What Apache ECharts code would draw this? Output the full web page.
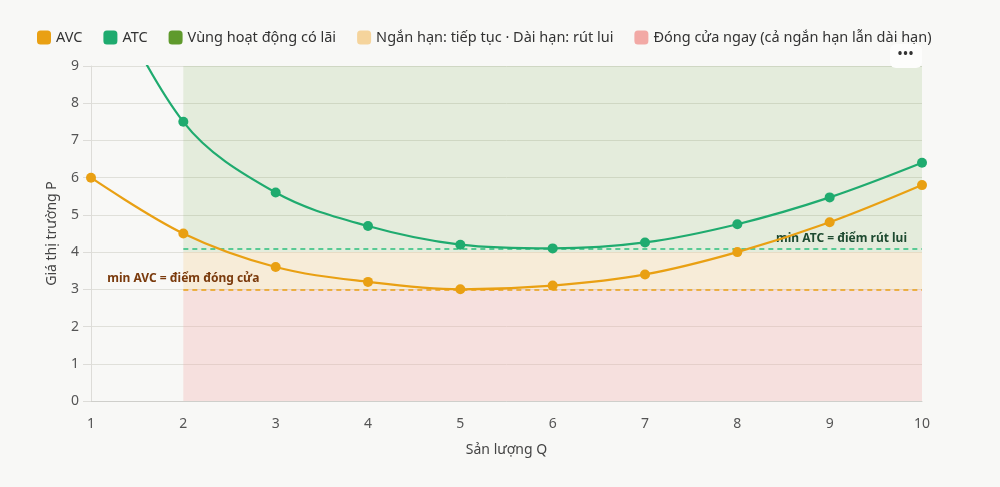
<!DOCTYPE html>
<html>
<head>
<meta charset="utf-8">
<script src="https://cdn.jsdelivr.net/npm/echarts@6/dist/echarts.min.js"></script>
<style>
  html, body { margin: 0; padding: 0; background: #f8f8f6; }
  #chart { width: 1000px; height: 487px; }
  #more { position: absolute; left: 890px; top: 44px; width: 32px; height: 24px; background: #fdfdfc;
          border-radius: 6px; font: bold 12px "Noto Sans", sans-serif; color: #333; text-align: center;
          line-height: 20px; letter-spacing: 1px; }
</style>
</head>
<body>
<div id="chart"></div>
<div id="more">•••</div>
<script>
const qValues = [1, 2, 3, 4, 5, 6, 7, 8, 9, 10];
const avcValues = [6.0, 4.5, 3.6, 3.2, 3.0, 3.1, 3.4, 4.0, 4.8, 5.8];
const atcValues = [12.0, 7.5, 5.6, 4.7, 4.2, 4.1, 4.26, 4.75, 5.47, 6.4];
const zoneQ = [2, 10];
const profitZone = [4, 9];
const shortRunZone = [3, 4];
const shutdownZone = [0, 3];
const minAVC = 3.0;
const minATC = 4.1;
const seriesNames = ['AVC', 'ATC', 'Vùng hoạt động có lãi', 'Ngắn hạn: tiếp tục · Dài hạn: rút lui', 'Đóng cửa ngay (cả ngắn hạn lẫn dài hạn)'];
const colors = ['#e9a013', '#1fab6f', '#5f9a2c', '#f5d49c', '#f2a9a5'];
const minAVCLabel = 'min AVC = điểm đóng cửa';
const minATCLabel = 'min ATC = điểm rút lui';

const avcData = qValues.map((q, i) => [q, avcValues[i]]);
const atcData = qValues.map((q, i) => [q, atcValues[i]]);

function zoneItem(zone, color, opacity) {
  return [
    { coord: [zoneQ[0], zone[0]], itemStyle: { color: color, opacity: opacity } },
    { coord: [zoneQ[1], zone[1]] }
  ];
}

const chart = echarts.init(document.getElementById('chart'));
chart.setOption({
  backgroundColor: '#f8f8f6',
  animation: false,
  textStyle: { fontFamily: '"Noto Sans", sans-serif' },
  legend: {
    top: 25, left: 32,
    itemWidth: 14, itemHeight: 14, itemGap: 21,
    icon: 'roundRect',
    textStyle: { fontSize: 14.5, color: '#333' },
    data: seriesNames
  },
  grid: { left: 91, right: 78, top: 66, bottom: 86 },
  xAxis: {
    type: 'value', min: 1, max: 10, interval: 1,
    name: 'Sản lượng Q', nameLocation: 'middle', nameGap: 42,
    nameTextStyle: { fontSize: 14, color: '#444' },
    axisLine: { show: true, lineStyle: { color: '#cfcfcb' } },
    axisTick: { show: false },
    axisLabel: { fontSize: 14, color: '#555', margin: 16 },
    splitLine: { show: false }
  },
  yAxis: {
    type: 'value', min: 0, max: 9, interval: 1,
    name: 'Giá thị trường P', nameLocation: 'middle', nameGap: 32,
    nameTextStyle: { fontSize: 14, color: '#444' },
    axisLine: { show: true, lineStyle: { color: '#dddcd8' } },
    axisTick: { show: true, length: 8, lineStyle: { color: '#dddcd8' } },
    axisLabel: { fontSize: 14, color: '#555', margin: 12 },
    splitLine: { lineStyle: { color: '#e0e0da' } }
  },
  series: [
    { name: seriesNames[2], type: 'line', data: [], itemStyle: { color: colors[2] } },
    { name: seriesNames[3], type: 'line', data: [], itemStyle: { color: colors[3] } },
    { name: seriesNames[4], type: 'line', data: [], itemStyle: { color: colors[4] } },
    {
      name: seriesNames[0], type: 'line', data: avcData, smooth: 0.35, clip: true, z: 5,
      symbol: 'circle', symbolSize: 10,
      lineStyle: { width: 2.2, color: colors[0] },
      itemStyle: { color: colors[0] },
      markArea: {
        silent: true,
        data: [
          zoneItem(profitZone, colors[2], 0.13),
          zoneItem(shortRunZone, colors[3], 0.33),
          zoneItem(shutdownZone, colors[4], 0.3)
        ]
      },
      markLine: {
        silent: true, symbol: 'none',
        lineStyle: { color: colors[0], type: [5, 4], width: 1.5, opacity: 1 },
        label: { show: false },
        data: [[{ coord: [zoneQ[0], minAVC] }, { coord: [zoneQ[1], minAVC] }]]
      },
      markPoint: {
        silent: true, symbol: 'circle', symbolSize: 0,
        label: { show: true, position: 'top', distance: 5, formatter: minAVCLabel,
                 fontSize: 12, fontWeight: 'bold', color: '#7a3a0c' },
        data: [{ coord: [zoneQ[0], minAVC] }]
      }
    },
    {
      name: seriesNames[1], type: 'line', data: atcData, smooth: 0.35, clip: true, z: 5,
      symbol: 'circle', symbolSize: 10,
      lineStyle: { width: 2.2, color: colors[1] },
      itemStyle: { color: colors[1] },
      markLine: {
        silent: true, symbol: 'none',
        lineStyle: { color: '#2bbf7c', type: [5, 4], width: 1.5, opacity: 1 },
        label: { show: false },
        data: [[{ coord: [zoneQ[0], minATC] }, { coord: [zoneQ[1], minATC] }]]
      },
      markPoint: {
        silent: true, symbol: 'circle', symbolSize: 0,
        label: { show: true, position: [-15, -10], align: 'right', verticalAlign: 'middle',
                 formatter: minATCLabel, fontSize: 12, fontWeight: 'bold', color: '#1d4a30' },
        data: [{ coord: [zoneQ[1], minATC] }]
      }
    }
  ]
});
</script>
</body>
</html>
